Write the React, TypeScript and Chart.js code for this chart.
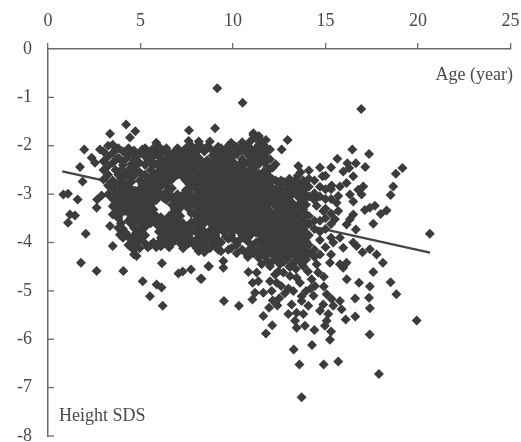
import React, { useEffect, useRef } from "react";
import { Chart, registerables } from "chart.js";

Chart.register(...registerables);

const xTicks = [0, 5, 10, 15, 20, 25];
const yTicks = [0, -1, -2, -3, -4, -5, -6, -7, -8];
const xTitle = "Age (year)";
const yTitle = "Height SDS";

const trendAges = [0.77, 20.65];
const trendSds = [-2.53, -4.21];

const sparseAges = [
  9.15, 10.52, 4.22, 3.35, 4.72, 4.43, 7.62, 9.03, 11.1, 1.96, 1.73, 2.36, 2.54, 1.87, 0.83, 1.08, 1.6, 2.9, 2.66, 2.63,
  1.19, 1.46, 1.08, 2.04, 3.5, 3.35, 3.89, 1.78, 2.63, 4.07, 5.12, 5.87, 6.14, 5.51, 6.2, 6.16, 7.05, 7.28, 7.73, 8.25,
  8.67, 4.79, 8.7, 8.3, 9.51, 10.32, 11.05, 11.95, 11.64, 12.12, 11.78, 13.28, 13.59, 14.9, 15.69, 14.27, 15.24, 15.3, 14.4, 13.71,
  17.89, 17.39, 19.93, 16.09, 16.61, 17.4, 17.35, 16.6, 17.4, 16.81, 16.15, 17.58, 18.52, 18.83, 18.1, 16.93, 12.95, 11.78, 12.63, 16.45,
  17.35, 15.64, 16.18, 16.64, 17.15, 13.53, 14.7, 14.1, 15.96, 16.28, 14.84, 16.5, 19.16, 18.8, 18.66, 18.52, 17.67, 17.4, 17.13, 18.3,
  17.98, 17.58, 16.64, 16.5, 16.32, 16.14, 16.95, 16.77, 17.04, 16.5, 16.32, 15.33, 15.78, 16.14, 15.69, 15.6, 15.69, 14.52, 14.88, 15.51,
  20.64, 15.78, 15.42, 15.96, 16.68, 17.4, 17.76, 16.5, 17.0, 2.81, 11.06, 11.37, 11.19, 11.64, 12.09, 12.0, 12.36, 12.27, 12.72, 13.08,
  13.44, 13.62, 13.26, 13.71, 13.71, 14.07, 13.17, 12.99, 13.44, 13.8, 13.35, 13.44, 13.89, 14.43, 14.25, 14.6, 14.91, 14.91, 15.06, 15.33,
  14.88, 14.7, 15.15, 15.06, 14.97, 15.78, 15.87, 15.42, 10.83, 11.28, 9.48, 9.48, 11.55, 12.0, 12.54, 13.26, 13.8, 14.52, 15.24, 15.78,
  16.14, 15.96, 12.6, 12.8, 13.0, 12.5, 13.4, 13.1, 12.9, 14.05, 14.2, 14.35, 13.95, 12.15, 12.4,
];
const sparseSds = [
  -0.81, -1.11, -1.56, -1.75, -1.7, -1.83, -1.68, -1.64, -1.74, -2.08, -2.44, -2.25, -2.35, -2.74, -3.01, -2.99, -3.11, -3.03, -3.11, -3.28,
  -3.42, -3.44, -3.59, -3.82, -4.07, -3.66, -3.84, -4.42, -4.59, -4.59, -4.8, -4.87, -4.93, -5.11, -5.31, -4.43, -4.64, -4.6, -4.56, -4.75,
  -4.49, -4.28, -4.49, -4.75, -5.21, -5.31, -5.18, -5.35, -5.52, -5.71, -5.88, -6.21, -6.52, -6.52, -6.46, -6.12, -6.01, -5.84, -5.81, -7.2,
  -6.72, -5.9, -5.61, -5.59, -5.53, -5.36, -5.14, -5.16, -4.91, -4.83, -4.76, -4.61, -4.82, -5.07, -4.42, -1.24, -1.88, -1.88, -2.08, -2.08,
  -2.17, -2.27, -2.36, -2.36, -2.44, -2.42, -2.45, -2.51, -2.53, -2.46, -2.63, -2.63, -2.46, -2.58, -2.84, -3.02, -3.24, -3.28, -3.33, -3.34,
  -3.41, -3.61, -3.73, -3.42, -3.52, -3.63, -3.01, -2.91, -2.84, -3.15, -3.01, -2.82, -2.84, -2.77, -3.04, -3.18, -3.35, -3.24, -3.35, -3.52,
  -3.82, -3.9, -4.0, -4.11, -4.07, -4.14, -4.25, -4.0, -4.2, -2.08, -4.83, -4.8, -5.04, -5.04, -5.0, -4.8, -4.83, -4.66, -4.62, -4.69,
  -4.73, -4.83, -5.0, -5.11, -5.21, -5.31, -5.28, -5.48, -5.45, -5.48, -5.62, -5.76, -5.72, -4.9, -4.76, -4.62, -4.71, -4.91, -5.07, -5.17,
  -5.28, -5.41, -5.48, -5.62, -5.72, -5.21, -5.38, -5.31, -4.61, -4.62, -4.38, -4.52, -4.45, -4.49, -4.45, -4.42, -4.49, -4.45, -4.42, -4.45,
  -4.42, -4.52, -4.9, -5.05, -4.95, -5.15, -4.55, -4.5, -4.35, -4.6, -4.95, -5.1, -5.0, -5.2, -5.3,
];

const denseAges = [
  3.0, 3.25, 3.5, 3.8, 4.05, 4.35, 4.65, 4.95, 5.25, 5.55, 5.85, 6.1, 6.4, 6.7, 7.0, 7.3, 7.6, 7.9, 8.15, 8.45,
  8.75, 9.05, 9.35, 9.6, 9.9, 10.2, 10.5, 10.8, 11.1, 11.4, 11.7, 12.0, 12.3, 12.6, 12.9, 13.2, 13.5, 13.8, 14.1, 14.4,
  14.7, 15.0, 15.3,
];
const denseSds = [
  [-2.12, -2.32, -2.5, -2.7],
  [-2.0, -2.22, -2.42, -2.6, -2.82, -3.0],
  [-1.98, -2.15, -2.35, -2.72, -2.9, -3.1, -3.25, -3.42],
  [-2.05, -2.25, -2.6, -2.8, -2.98, -3.15, -3.32, -3.5, -3.7],
  [-2.12, -2.4, -2.55, -2.75, -2.92, -3.08, -3.25, -3.72, -3.9],
  [-2.05, -2.2, -2.5, -2.65, -2.88, -3.05, -3.22, -3.38, -3.55, -3.88, -4.05],
  [-2.1, -2.3, -2.45, -2.62, -2.95, -3.12, -3.3, -3.48, -3.7, -3.85, -4.0, -4.15, -4.25],
  [-2.15, -2.35, -2.55, -2.72, -2.9, -3.08, -3.25, -3.42, -3.6, -3.78, -3.95, -4.12],
  [-2.05, -2.22, -2.4, -2.6, -2.78, -2.95, -3.15, -3.32, -3.5, -3.68, -3.85, -4.02],
  [-2.12, -2.3, -2.5, -2.68, -2.85, -3.05, -3.22, -3.4, -3.6, -4.05],
  [-1.94, -2.12, -2.38, -2.58, -2.75, -2.92, -3.12, -3.45, -3.62, -4.1],
  [-2.15, -2.32, -2.5, -2.68, -2.85, -3.02, -3.48, -3.72, -3.9, -4.08],
  [-2.05, -2.25, -2.42, -2.6, -2.78, -2.95, -3.12, -3.55, -3.75, -3.95],
  [-2.18, -2.35, -2.52, -2.7, -2.88, -3.05, -3.22, -3.4, -3.62, -3.82, -4.02],
  [-2.05, -2.22, -2.42, -2.6, -3.0, -3.18, -3.35, -3.55, -3.72, -3.9],
  [-2.12, -2.3, -2.48, -2.65, -3.02, -3.22, -3.6, -3.78, -3.95, -4.12],
  [-1.9, -2.08, -2.25, -2.42, -2.6, -2.78, -2.95, -3.12, -3.3, -3.65, -3.85, -4.02],
  [-2.15, -2.32, -2.5, -2.68, -2.85, -3.05, -3.22, -3.4, -3.58, -3.75, -4.05],
  [-1.91, -2.08, -2.25, -2.6, -2.78, -2.95, -3.12, -3.3, -3.48, -3.65, -3.82, -4.0, -4.18],
  [-2.12, -2.4, -2.55, -2.72, -2.9, -3.08, -3.25, -3.42, -3.6, -3.78, -3.98, -4.2],
  [-1.91, -2.05, -2.35, -2.52, -2.7, -2.88, -3.05, -3.22, -3.4, -3.58, -3.75, -3.92, -4.12],
  [-2.1, -2.28, -2.45, -2.62, -2.8, -2.98, -3.15, -3.32, -3.5, -3.68, -3.85, -4.05],
  [-2.05, -2.22, -2.4, -2.58, -2.75, -2.92, -3.1, -3.28, -3.45, -3.62, -4.0, -4.18],
  [-2.12, -2.3, -2.48, -2.65, -2.82, -3.0, -3.18, -3.35, -3.52, -3.7, -3.88],
  [-1.94, -2.08, -2.25, -2.42, -2.6, -2.78, -2.95, -3.12, -3.3, -3.48, -3.65, -3.85, -4.12],
  [-2.02, -2.18, -2.5, -2.68, -2.85, -3.02, -3.2, -3.38, -3.55, -3.72, -4.05, -4.22],
  [-1.93, -2.1, -2.28, -2.45, -2.62, -2.8, -2.98, -3.15, -3.32, -3.5, -3.68, -3.85, -4.15],
  [-2.02, -2.18, -2.35, -2.55, -2.72, -2.9, -3.08, -3.25, -3.42, -3.6, -3.78, -3.98, -4.3],
  [-1.78, -2.12, -2.3, -2.48, -2.65, -2.82, -3.0, -3.18, -3.35, -3.52, -3.7, -4.05, -4.22],
  [-1.8, -1.98, -2.15, -2.38, -2.58, -2.75, -2.92, -3.1, -3.28, -3.45, -3.62, -3.8, -3.98, -4.15, -4.32],
  [-2.0, -2.18, -2.35, -2.52, -2.7, -2.88, -3.05, -3.22, -3.4, -3.58, -3.75, -3.92, -4.1, -4.28],
  [-2.08, -2.28, -2.48, -2.65, -2.82, -3.0, -3.18, -3.35, -3.52, -3.7, -3.88, -4.05, -4.22],
  [-2.38, -2.72, -2.9, -3.08, -3.25, -3.42, -3.6, -3.78, -3.95, -4.12, -4.3],
  [-2.72, -2.88, -3.05, -3.22, -3.4, -3.58, -3.75, -3.92, -4.1, -4.28],
  [-2.76, -2.95, -3.12, -3.3, -3.48, -3.65, -3.82, -4.0, -4.18, -4.32],
  [-2.78, -3.0, -3.18, -3.35, -3.52, -3.7, -3.88, -4.05, -4.22],
  [-2.62, -2.85, -3.05, -3.25, -3.42, -3.6, -3.78, -3.95, -4.15, -4.3],
  [-2.72, -2.92, -3.12, -3.32, -3.55, -3.72, -3.9, -4.08, -4.25],
  [-2.68, -2.85, -3.05, -3.45, -3.62, -3.85, -4.05, -4.22],
  [-2.72, -2.98, -3.12, -3.55, -3.72, -4.15, -4.3],
  [-2.85, -3.05, -3.55, -3.78, -3.95, -4.25],
  [-2.62, -2.9, -3.1, -3.3, -3.5, -3.72, -4.1],
  [-2.45, -2.9, -3.1, -3.4, -3.62, -3.9, -4.25],
];

const fillAges = [
  3.65, 3.95, 4.2, 4.5, 4.8, 5.1, 5.4, 5.7, 6.0, 6.25, 6.55, 6.85, 7.15, 7.45, 7.75, 8.05, 8.3, 8.6, 8.9, 9.2,
  9.5, 9.75, 10.05, 10.35, 10.65, 10.95, 11.25, 11.55, 11.85, 12.15, 12.45, 12.75, 13.05, 13.35, 13.65, 13.95,
];
const fillSds = [
  [-2.08, -2.3, -2.5, -2.8, -3.0, -3.2, -3.38],
  [-2.3, -2.5, -2.68, -2.85, -3.02, -3.2, -3.4, -3.6],
  [-2.28, -2.62, -2.82, -3.0, -3.18, -3.35, -3.8],
  [-2.15, -2.38, -2.58, -2.75, -2.98, -3.15, -3.32, -3.48, -3.62, -3.95, -4.1],
  [-2.22, -2.38, -2.55, -3.0, -3.2, -3.38, -3.55, -3.75, -3.92, -4.08],
  [-2.08, -2.6, -2.8, -3.0, -3.18, -3.35, -3.52, -3.7, -3.88],
  [-2.15, -2.32, -2.7, -2.88, -3.05, -3.25, -3.42, -3.6, -4.1],
  [-2.05, -2.22, -2.4, -2.6, -2.78, -2.95, -3.15, -3.32, -3.5, -4.0],
  [-2.02, -2.22, -2.42, -2.62, -2.82, -3.02, -3.55, -3.78, -4.0],
  [-2.1, -2.35, -2.55, -2.72, -3.08, -3.65, -3.85, -4.02],
  [-2.15, -2.32, -2.5, -2.7, -2.88, -3.05, -3.45, -3.65, -3.85, -4.1],
  [-2.12, -2.28, -2.45, -2.62, -3.12, -3.3, -3.52, -3.72, -3.92],
  [-2.12, -2.32, -2.5, -3.1, -3.28, -3.45, -3.65, -3.82, -4.02],
  [-2.05, -2.2, -2.38, -2.55, -2.72, -2.92, -3.12, -3.7, -3.88, -4.05],
  [-2.0, -2.18, -2.35, -2.52, -2.7, -2.88, -3.05, -3.22, -3.4, -3.58, -3.75, -3.95],
  [-2.02, -2.22, -2.4, -2.55, -2.72, -2.9, -3.05, -3.22, -3.4, -3.58, -3.75, -3.92, -4.12],
  [-2.02, -2.32, -2.5, -2.68, -2.85, -3.02, -3.2, -3.38, -3.55, -3.72, -3.9, -4.08],
  [-2.02, -2.3, -2.48, -2.65, -2.82, -3.0, -3.18, -3.35, -3.52, -3.85, -4.1],
  [-2.2, -2.42, -2.6, -2.78, -2.95, -3.12, -3.3, -3.48, -3.65, -3.82, -4.02],
  [-2.02, -2.18, -2.35, -2.52, -2.7, -2.88, -3.05, -3.22, -3.4, -3.58, -3.75, -3.95, -4.15],
  [-2.2, -2.38, -2.55, -2.72, -2.9, -3.08, -3.25, -3.42, -3.6, -3.78],
  [-2.0, -2.15, -2.32, -2.5, -2.68, -2.85, -3.02, -3.2, -3.38, -3.55, -3.72, -3.92, -4.15],
  [-2.0, -2.15, -2.35, -2.52, -2.7, -2.88, -3.05, -3.22, -3.4, -3.58, -3.75, -3.95],
  [-2.08, -2.38, -2.55, -2.72, -2.9, -3.08, -3.25, -3.42, -3.6, -3.78, -3.95],
  [-2.0, -2.35, -2.52, -2.7, -2.88, -3.05, -3.22, -3.4, -3.58, -3.75, -3.92, -4.2],
  [-1.9, -2.05, -2.22, -2.4, -2.6, -2.78, -2.95, -3.12, -3.3, -3.48, -3.65, -3.85, -4.12],
  [-1.85, -2.05, -2.22, -2.4, -2.58, -2.75, -2.92, -3.1, -3.28, -3.45, -3.62, -3.8, -4.0, -4.2],
  [-1.9, -2.08, -2.28, -2.65, -2.82, -3.0, -3.18, -3.35, -3.52, -3.7, -3.88, -4.05, -4.25],
  [-2.1, -2.28, -2.45, -2.62, -2.78, -2.95, -3.12, -3.3, -3.48, -3.65, -3.82, -4.0, -4.18, -4.38],
  [-2.45, -2.7, -2.9, -3.08, -3.5, -3.68, -3.85, -4.02, -4.2, -4.38],
  [-2.75, -2.98, -3.15, -3.32, -3.5, -3.68, -3.85, -4.02, -4.2, -4.4, -4.6],
  [-2.75, -2.95, -3.15, -3.32, -3.5, -3.68, -3.85, -4.02, -4.2, -4.4],
  [-2.68, -2.85, -3.05, -3.22, -3.4, -3.58, -3.75, -3.92, -4.1, -4.28, -4.5],
  [-2.72, -2.92, -3.32, -3.5, -3.68, -3.85, -4.02, -4.2, -4.38],
  [-2.55, -2.78, -2.98, -3.18, -3.35, -3.52, -3.7, -3.88, -4.05, -4.25, -4.42],
  [-2.82, -3.02, -3.22, -3.42, -3.62, -3.8, -3.98, -4.15, -4.35],
];

const scatterData = [
  ...sparseAges.map((x, i) => ({ x, y: sparseSds[i] })),
  ...denseAges.flatMap((x, i) => denseSds[i].map((y) => ({ x, y }))),
  ...fillAges.flatMap((x, i) => fillSds[i].map((y) => ({ x, y }))),
];
const trendData = trendAges.map((x, i) => ({ x, y: trendSds[i] }));

const AXIS = "#6a6a6a";
const TEXT = "#4a4a4a";
const DOT = "#3c3c3c";
const FONT = '"Liberation Serif", serif';

const annotate = {
  id: "annotate",
  afterDraw(chart: any) {
    const { ctx, scales } = chart;
    const { x, y } = scales;
    ctx.save();
    ctx.strokeStyle = AXIS;
    ctx.lineWidth = 1.3;
    yTicks.slice(1).forEach((v) => {
      const py = y.getPixelForValue(v);
      ctx.beginPath();
      ctx.moveTo(x.left, py);
      ctx.lineTo(x.left + 6, py);
      ctx.stroke();
    });
    ctx.fillStyle = TEXT;
    ctx.font = `18px ${FONT}`;
    ctx.textBaseline = "middle";
    ctx.textAlign = "right";
    ctx.fillText(xTitle, 513, y.getPixelForValue(-0.55));
    ctx.textAlign = "left";
    ctx.fillText(yTitle, 59, y.getPixelForValue(-7.6));
    ctx.restore();
  },
};

const noOverflow = (s: any) => {
  s.paddingLeft = 0;
  s.paddingRight = 0;
  s.paddingTop = 0;
  s.paddingBottom = 0;
};

export default function App() {
  const ref = useRef<HTMLCanvasElement>(null);
  useEffect(() => {
    const chart = new Chart(ref.current as HTMLCanvasElement, {
      type: "scatter",
      data: {
        datasets: [
          {
            label: "Height SDS",
            data: scatterData,
            pointStyle: "rectRot",
            pointRadius: 5,
            backgroundColor: DOT,
            borderColor: DOT,
            borderWidth: 0,
          },
          {
            label: "Trend",
            data: trendData,
            showLine: true,
            pointRadius: 0,
            borderColor: "#454545",
            borderWidth: 2.2,
          },
        ],
      },
      options: {
        responsive: false,
        animation: false,
        layout: { autoPadding: false, padding: { top: 0, left: 0, right: 10.5, bottom: 6 } },
        plugins: { legend: { display: false }, tooltip: { enabled: false } },
        scales: {
          x: {
            type: "linear",
            position: "top",
            min: 0,
            max: 25,
            afterFit: (s: any) => { s.height = 49; noOverflow(s); },
            afterBuildTicks: (s: any) => { s.ticks = xTicks.map((value) => ({ value })); },
            grid: { drawOnChartArea: false, drawTicks: true, tickLength: 6, color: AXIS, lineWidth: 1.3 },
            border: { color: AXIS, width: 1.5 },
            ticks: { color: TEXT, font: { family: FONT, size: 18 }, padding: 11, maxRotation: 0, autoSkip: false },
          },
          y: {
            type: "linear",
            min: -8,
            max: 0,
            afterFit: (s: any) => { s.width = 48; noOverflow(s); },
            afterBuildTicks: (s: any) => { s.ticks = yTicks.map((value) => ({ value })); },
            grid: { drawOnChartArea: false, drawTicks: false },
            border: { color: AXIS, width: 1.5 },
            ticks: { color: TEXT, font: { family: FONT, size: 18 }, padding: 16, autoSkip: false },
          },
        },
      },
      plugins: [annotate],
    } as any);
    return () => chart.destroy();
  }, []);
  return (
    <div style={{ position: "fixed", left: 0, top: 0, width: 521, height: 442, background: "#fff" }}>
      <canvas ref={ref} width={521} height={442} style={{ display: "block" }} />
    </div>
  );
}
